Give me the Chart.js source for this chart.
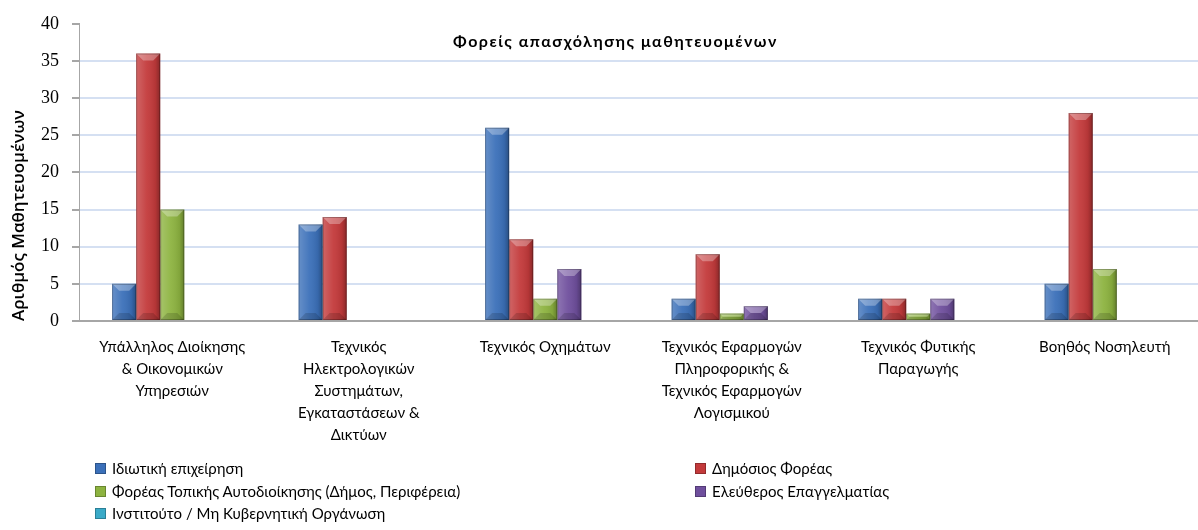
<!DOCTYPE html>
<html>
<head>
<meta charset="utf-8">
<script src="https://cdn.jsdelivr.net/npm/chart.js@4/dist/chart.umd.min.js"></script>
<style>
  html, body { margin: 0; padding: 0; background: #fff; }
  #wrap { position: relative; width: 1198px; height: 530px; }
  #title {
    position: absolute; left: 453px; top: 31px;
    font: bold 16px Lato, "Noto Sans", sans-serif; letter-spacing: 1.5px; color: #000;
  }
  .lg {
    position: absolute; font: 15px Lato, "Noto Sans", sans-serif; color: #000;
    white-space: nowrap; line-height: 16px;
  }
  .lg span.box {
    display: inline-block; width: 9px; height: 9px; margin-right: 6px;
    vertical-align: 0px; border: 1px solid rgba(0,0,0,0.25);
  }
</style>
</head>
<body>
<div id="wrap">
  <canvas id="chart" width="1198" height="530"></canvas>
  <div id="title">Φορείς απασχόλησης μαθητευομένων</div>
  <div id="legend"></div>
</div>
<script>
/* ======================================================================
DATA
====================================================================== */
const categories = [
  ['Υπάλληλος Διοίκησης', '& Οικονομικών', 'Υπηρεσιών'],
  ['Τεχνικός', 'Ηλεκτρολογικών', 'Συστημάτων,', 'Εγκαταστάσεων &', 'Δικτύων'],
  ['Τεχνικός Οχημάτων'],
  ['Τεχνικός Εφαρμογών', 'Πληροφορικής &', 'Τεχνικός Εφαρμογών', 'Λογισμικού'],
  ['Τεχνικός Φυτικής', 'Παραγωγής'],
  ['Βοηθός Νοσηλευτή']
];
const seriesNames = [
  'Ιδιωτική επιχείρηση',
  'Δημόσιος Φορέας',
  'Φορέας Τοπικής Αυτοδιοίκησης (Δήμος, Περιφέρεια)',
  'Ελεύθερος Επαγγελματίας',
  'Ινστιτούτο / Μη Κυβερνητική Οργάνωση'
];
const privateValues = [5, 13, 26, 3, 3, 5];
const publicValues = [36, 14, 11, 9, 3, 28];
const localGovValues = [15, 0, 3, 1, 1, 7];
const freelanceValues = [0, 0, 7, 2, 3, 0];
const instituteValues = [0, 0, 0, 0, 0, 0];
const yTicks = [0, 5, 10, 15, 20, 25, 30, 35, 40];

const colors = ['#3b70b9', '#c33a3b', '#8db340', '#6f4f9d', '#3aaac8'];
const allValues = [privateValues, publicValues, localGovValues, freelanceValues, instituteValues];

/* ======================================================================
Bar shading (bevelled look)
====================================================================== */
const bevelPlugin = {
  id: 'bevel',
  afterDatasetsDraw(chart) {
    const ctx = chart.ctx;
    chart.data.datasets.forEach((ds, i) => {
      const meta = chart.getDatasetMeta(i);
      meta.data.forEach(bar => {
        const p = bar.getProps(['x', 'y', 'base', 'width'], true);
        const h = p.base - p.y;
        if (h <= 0.5) return;
        const l = p.x - p.width / 2, r = p.x + p.width / 2;
        ctx.save();
        const g = ctx.createLinearGradient(l, 0, r, 0);
        g.addColorStop(0, 'rgba(255,255,255,0.22)');
        g.addColorStop(0.45, 'rgba(255,255,255,0.05)');
        g.addColorStop(0.8, 'rgba(0,0,0,0.08)');
        g.addColorStop(1, 'rgba(0,0,0,0.3)');
        ctx.fillStyle = g;
        ctx.fillRect(l, p.y, p.width, h);
        const t = Math.min(7, h / 2);
        ctx.fillStyle = 'rgba(255,255,255,0.3)';
        ctx.beginPath();
        ctx.moveTo(l, p.y);
        ctx.lineTo(r, p.y);
        ctx.lineTo(r - t, p.y + t);
        ctx.lineTo(l + t, p.y + t);
        ctx.closePath();
        ctx.fill();
        ctx.fillStyle = 'rgba(0,0,0,0.15)';
        ctx.beginPath();
        ctx.moveTo(l, p.base);
        ctx.lineTo(r, p.base);
        ctx.lineTo(r - t, p.base - t);
        ctx.lineTo(l + t, p.base - t);
        ctx.closePath();
        ctx.fill();
        ctx.strokeStyle = 'rgba(0,0,0,0.25)';
        ctx.lineWidth = 1;
        ctx.strokeRect(l + 0.5, p.y + 0.5, p.width - 1, h - 1);
        ctx.restore();
      });
    });
  }
};

/* ======================================================================
Chart
====================================================================== */
const chartCanvas = document.querySelector('#chart');
let chartData = {
  labels: categories,
  datasets: seriesNames.map((name, i) => ({
    label: name,
    data: allValues[i],
    backgroundColor: colors[i],
    borderWidth: 0,
    barPercentage: 1,
    categoryPercentage: 0.645
  }))
};

let chartOptions = {
  responsive: false,
  animation: false,
  layout: { padding: { top: 13, right: 0, bottom: 0, left: 0 } },
  plugins: {
    legend: { display: false },
    tooltip: { enabled: false }
  },
  scales: {
    x: {
      grid: { display: false },
      border: { display: true, color: '#a6a6a6', width: 2 },
      ticks: {
        color: '#000',
        padding: 7,
        maxRotation: 0,
        autoSkip: false,
        font: { family: 'Lato, "Noto Sans", sans-serif', size: 15, lineHeight: 22 / 15 }
      },
      afterFit(scale) { scale.height = 209; }
    },
    y: {
      min: 0,
      max: 40,
      afterBuildTicks(scale) { scale.ticks = yTicks.map(v => ({ value: v })); },
      grid: {
        color: ctx => (ctx.tick && ctx.tick.value === 40) ? 'rgba(0,0,0,0)' : '#d5e0f2',
        lineWidth: 2,
        tickColor: '#a6a6a6',
        tickLength: 7
      },
      border: { display: true, color: '#a6a6a6', width: 1 },
      ticks: {
        color: '#000',
        padding: 13,
        font: { family: '"Liberation Serif", serif', size: 18 }
      },
      title: {
        display: true,
        text: 'Αριθμός Μαθητευομένων',
        color: '#000',
        align: 'start',
        padding: { top: 9, bottom: 0 },
        font: { family: '"Open Sans", sans-serif', size: 17, weight: '600' }
      },
      afterFit(scale) { scale.width = 79; }
    }
  }
};

let chart = new Chart(chartCanvas, {
  type: 'bar',
  data: chartData,
  options: chartOptions,
  plugins: [bevelPlugin]
});

/* ======================================================================
Legend (two columns, like the original)
====================================================================== */
const legendBox = document.querySelector('#legend');
const legendCols = [95, 695];
const legendRows = [460, 483, 505];
seriesNames.forEach((name, i) => {
  const item = document.createElement('div');
  item.className = 'lg';
  item.style.left = legendCols[i % 2] + 'px';
  item.style.top = legendRows[Math.floor(i / 2)] + 'px';
  item.innerHTML = '<span class="box" style="background:' + colors[i] + '"></span>' + name;
  legendBox.appendChild(item);
});
</script>
</body>
</html>
